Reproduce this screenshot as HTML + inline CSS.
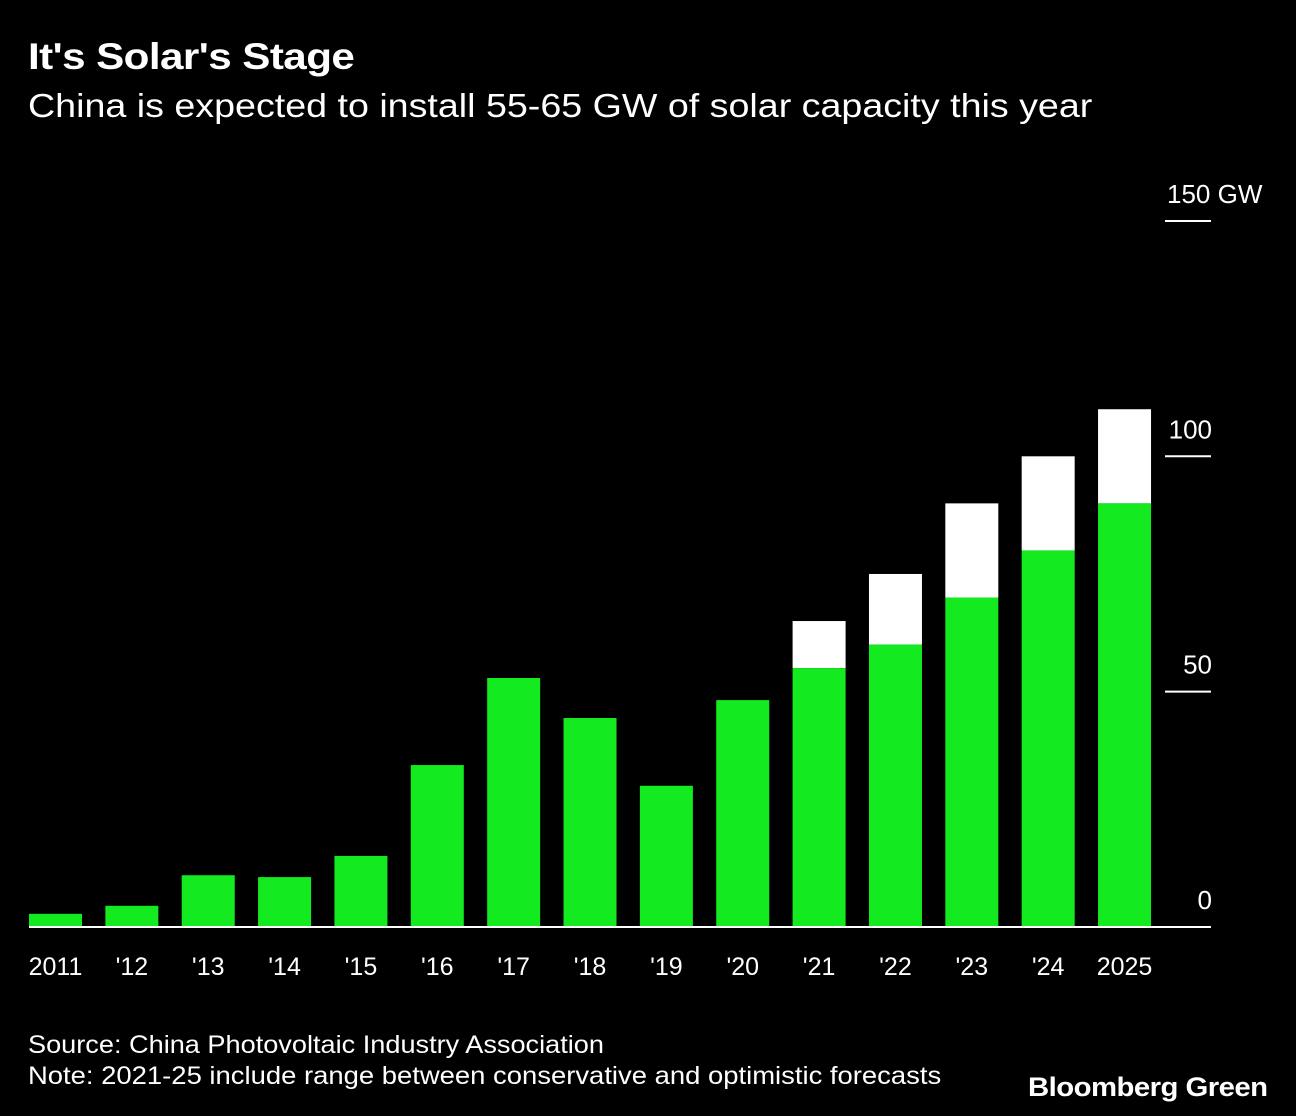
<!DOCTYPE html>
<html><head><meta charset="utf-8"><style>
body{margin:0;background:#000;width:1296px;height:1116px;overflow:hidden;font-family:"Liberation Sans",Arial,sans-serif;color:#fff}
.t{position:absolute;white-space:nowrap;transform-origin:left top}
</style></head><body>
<div class="t" style="left:28px;top:36px;font-size:37px;font-weight:bold;letter-spacing:-0.5px;transform:scaleX(1.14)">It's Solar's Stage</div>
<div class="t" style="left:28px;top:87px;font-size:33px;transform:scaleX(1.14)">China is expected to install 55-65 GW of solar capacity this year</div>
<svg id="c" width="1296" height="1116" style="position:absolute;left:0;top:0"></svg>
<div class="t" style="left:28px;top:1031px;font-size:25px;transform:scaleX(1.085)">Source: China Photovoltaic Industry Association</div>
<div class="t" style="left:28px;top:1062px;font-size:25px;transform:scaleX(1.097)">Note: 2021-25 include range between conservative and optimistic forecasts</div>
<div class="t" style="left:1028px;top:1072px;font-size:27px;font-weight:bold;letter-spacing:-0.5px;transform:scaleX(1.086)">Bloomberg Green</div>
<script>
const categories=["2011","'12","'13","'14","'15","'16","'17","'18","'19","'20","'21","'22","'23","'24","2025"];
const installed=[2.8,4.5,11,10.6,15.1,34.4,52.9,44.4,30,48.2,55,60,70,80,90];
const optimistic=[null,null,null,null,null,null,null,null,null,null,65,75,90,100,110];
const ticks=[0,50,100,150];
const tickLabels=["0","50","100","150 GW"];
const NS="http://www.w3.org/2000/svg",svg=document.getElementById('c');
const y=v=>927-v*4.707, x=i=>29+i*76.36, bw=53;
function el(t,a){const e=document.createElementNS(NS,t);for(const k in a)e.setAttribute(k,a[k]);svg.appendChild(e);return e;}
ticks.forEach((t,i)=>{
 const l=el('line',{x1:1165,x2:1211,y1:y(t),y2:y(t),stroke:'#fff','stroke-width':2});
 
 
 const last=i===ticks.length-1;
 const tx=el('text',{x:last?1167:1212,y:y(t)-18,'text-anchor':last?'start':'end','font-size':26,fill:'#fff'});
 tx.textContent=tickLabels[i];
 
 
});
categories.forEach((c,i)=>{
 if(optimistic[i]!=null){
  const r=el('rect',{x:x(i),y:y(optimistic[i]),width:bw,height:y(installed[i])-y(optimistic[i]),fill:'#fff'});
  
  
 }
 const b=el('rect',{x:x(i),y:y(installed[i]),width:bw,height:927-y(installed[i]),fill:'#13ea20'});
 
 
 const t=el('text',{x:x(i)+bw/2,y:975,'text-anchor':'middle','font-size':25,fill:'#fff'});
 t.textContent=c;
 
 
});
const a=el('line',{x1:29,x2:1211,y1:927,y2:927,stroke:'#fff','stroke-width':2});


</script>
</body></html>
